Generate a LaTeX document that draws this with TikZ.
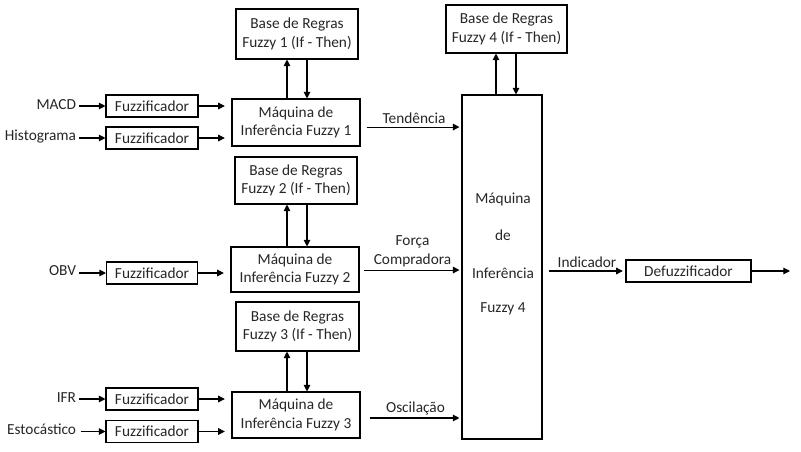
\documentclass[tikz,border=0pt]{standalone}
\usepackage{fontspec}
\setmainfont{Carlito}
\usetikzlibrary{arrows.meta,calc}
\tikzset{
  txt/.style={font=\fontsize{11.5}{14}\selectfont, text=black!85},
  box/.style={draw, line width=0.8pt, align=center, inner sep=1pt, txt},
  lbl/.style={inner sep=2pt, align=center, txt},
  arr/.style={-{Triangle[length=5pt,width=5pt]}, line width=0.8pt}
}

\begin{document}
\begin{tikzpicture}[x=0.75pt,y=-0.75pt]
        \useasboundingbox (0,0) rectangle (801,451);
        % First Block
        \node[box, minimum width=91.5pt, minimum height=37.5pt] (b1) at (297,34) {Base de Regras\\Fuzzy 1 (If - Then)};
        \node[box, minimum width=96pt, minimum height=35.25pt] (m1) at (296,122.5) {Máquina de\\Inferência Fuzzy 1};
        \node[box, minimum width=69pt, minimum height=16.5pt] (f1) at (152,106) {Fuzzificador};
        \node[box, minimum width=69pt, minimum height=16.5pt] (f2) at (152,138) {Fuzzificador};
        \node[lbl, anchor=east] (macd) at (79,105) {MACD};
        \node[lbl, anchor=east] (hist) at (79,137) {Histograma};
        \draw[arr] (macd.east |- f1.west) -- (f1.west);
        \draw[arr] (hist.east |- f2.west) -- (f2.west);
        \draw[arr, shorten >=5pt] (f1.east) -- (f1.east -| m1.west);
        \draw[arr, shorten >=5pt] (f2.east) -- (f2.east -| m1.west);
        \draw[arr] ([xshift=-6.75pt]m1.north) -- ([xshift=-6.75pt]m1.north |- b1.south);
        \draw[arr] ([xshift=8.25pt]m1.north |- b1.south) -- ([xshift=8.25pt]m1.north);
        % Second Block
        \node[box, minimum width=91.5pt, minimum height=35.25pt] (b2) at (296,180.5) {Base de Regras\\Fuzzy 2 (If - Then)};
        \node[box, minimum width=96pt, minimum height=33.75pt] (m2) at (295,269.5) {Máquina de\\Inferência Fuzzy 2};
        \node[box, minimum width=68.25pt, minimum height=16.5pt] (f3) at (152,273) {Fuzzificador};
        \node[lbl, anchor=east] (obv) at (79,271) {OBV};
        \draw[arr] (obv.east |- f3.west) -- (f3.west);
        \draw[arr, shorten >=5pt] (f3.east) -- (f3.east -| m2.west);
        \draw[arr] ([xshift=-6pt]m2.north) -- ([xshift=-6pt]m2.north |- b2.south);
        \draw[arr] ([xshift=9pt]m2.north |- b2.south) -- ([xshift=9pt]m2.north);
        % Third Block
        \node[box, minimum width=92.25pt, minimum height=36.75pt] (b3) at (297.5,326.5) {Base de Regras\\Fuzzy 3 (If - Then)};
        \node[box, minimum width=96pt, minimum height=34.5pt] (m3) at (296,415) {Máquina de\\Inferência Fuzzy 3};
        \node[box, minimum width=69pt, minimum height=16.5pt] (f4) at (152,399) {Fuzzificador};
        \node[box, minimum width=69pt, minimum height=16.5pt] (f5) at (152,431.5) {Fuzzificador};
        \node[lbl, anchor=east] (ifr) at (79,398) {IFR};
        \node[lbl, anchor=east] (esto) at (79,429) {Estocástico};
        \draw[arr] (ifr.east |- f4.west) -- (f4.west);
        \draw[arr] ([xshift=1.5pt]esto.east |- f5.west) -- (f5.west);
        \draw[arr, shorten >=5pt] (f4.east) -- (f4.east -| m3.west);
        \draw[arr, shorten >=5pt] (f5.east) -- (f5.east -| m3.west);
        \draw[arr] ([xshift=-6.75pt]m3.north) -- ([xshift=-6.75pt]m3.north |- b3.south);
        \draw[arr] ([xshift=8.25pt]m3.north |- b3.south) -- ([xshift=8.25pt]m3.north);
        % Fourth Block
        \node[box, minimum width=90.75pt, minimum height=36pt] (b4) at (506.5,29) {Base de Regras\\Fuzzy 4 (If - Then)};
        \node[box, minimum width=60pt, minimum height=258pt] (m4) at (502,267) {};
        \node[lbl] (m4t) at ($(m4.center)+(1,-13)$) {Máquina\\[14pt]de\\[14pt]Inferência\\[12pt]Fuzzy 4};
        \draw[arr] ([xshift=-4.5pt]m4.north) -- ([xshift=-4.5pt]m4.north |- b4.south);
        \draw[arr] ([xshift=10.5pt]m4.north |- b4.south) -- ([xshift=10.5pt]m4.north);
        % Outputs
        \draw[arr, shorten >=1.5pt] ([xshift=4.5pt,yshift=-3.4pt]m1.east) coordinate (t1) -- (t1 -| m4.west)
            node[lbl, midway, above] {Tendência};
        \draw[arr, shorten >=1.5pt] ([xshift=3pt,yshift=-0.4pt]m2.east) coordinate (t2) -- (t2 -| m4.west)
            node[lbl, midway, above] {Força\\Compradora};
        \draw[arr, shorten >=1.5pt] ([xshift=6.75pt,yshift=-2.25pt]m3.east) coordinate (t3) -- (t3 -| m4.west)
            node[lbl, midway, above] {Oscilação};
        \node[box, minimum width=93.75pt, minimum height=16.5pt] (dfz) at (688.5,271) {Defuzzificador};
        \draw[arr, shorten >=2pt] ([xshift=4.5pt]m4.east |- dfz.west) -- (dfz.west)
            node[lbl, midway, above] {Indicador};
        \coordinate (out) at (790,271);
        \draw[arr] (dfz.east) -- (out);
\end{tikzpicture}
\end{document}
